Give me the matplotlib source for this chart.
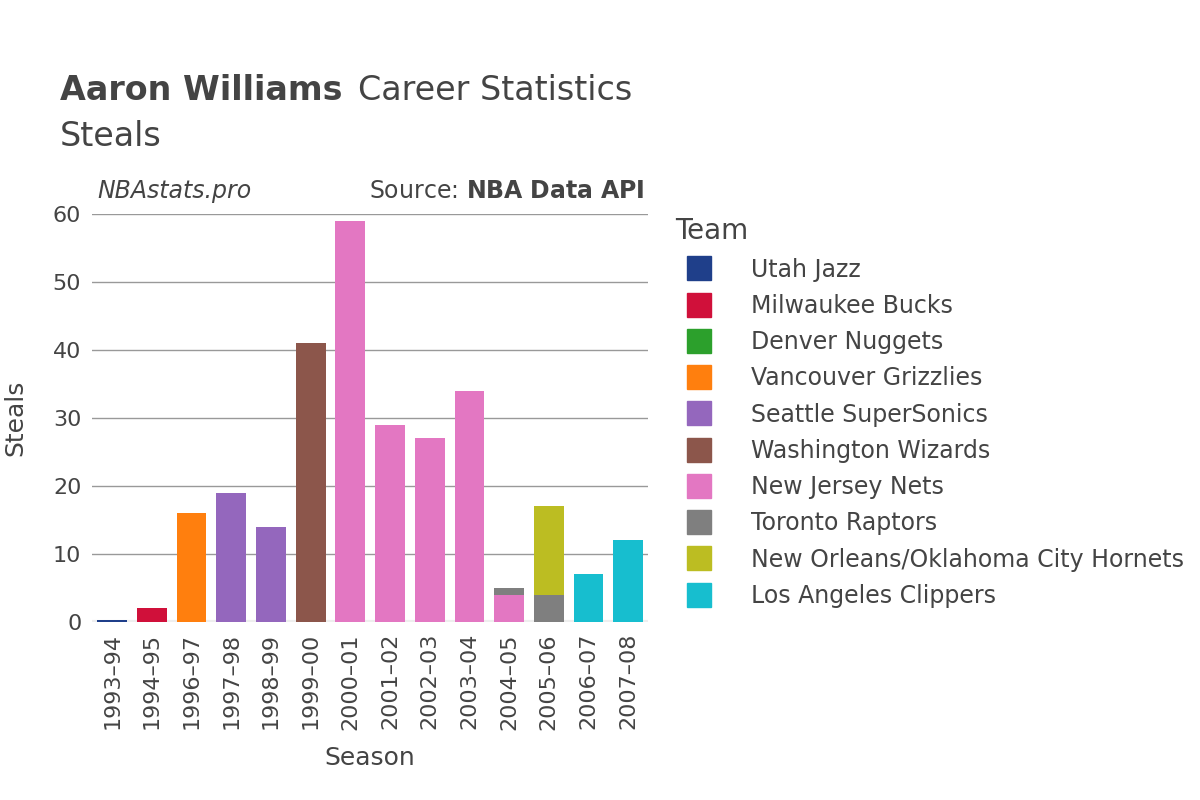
import matplotlib
matplotlib.use("Agg")
import matplotlib.pyplot as plt
from matplotlib.lines import Line2D

seasons = ["1993–94","1994–95","1996–97","1997–98","1998–99","1999–00","2000–01",
           "2001–02","2002–03","2003–04","2004–05","2005–06","2006–07","2007–08"]
teams = ["Utah Jazz","Milwaukee Bucks","Denver Nuggets","Vancouver Grizzlies",
         "Seattle SuperSonics","Washington Wizards","New Jersey Nets","Toronto Raptors",
         "New Orleans/Oklahoma City Hornets","Los Angeles Clippers"]
colors = ["#1f3f8a","#d0103a","#2ca02c","#ff7f0e","#9467bd","#8c564b","#e377c2",
          "#7f7f7f","#bcbd22","#17becf"]
# (season index, team index, steals), stacked in order
records = [(0,0,0.3),(1,1,2),(2,3,16),(3,4,19),(4,4,14),(5,5,41),(6,6,59),(7,6,29),
           (8,6,27),(9,6,34),(10,6,4),(10,7,1),(11,7,4),(11,8,13),(12,9,7),(13,9,12)]

fig = plt.figure(figsize=(12,8), dpi=100)
ax = fig.add_axes([0.077, 0.2225, 0.463, 0.51])
bottoms = [0]*len(seasons)
for si, ti, v in records:
    ax.bar(si, v, bottom=bottoms[si], width=0.75, color=colors[ti], zorder=3)
    bottoms[si] += v
ax.set_xlim(-0.5, len(seasons)-0.5)
ax.set_ylim(0, 60)
ax.set_yticks(range(0,61,10))
ax.set_xticks(range(len(seasons)))
ax.set_xticklabels(seasons, rotation=90, va="top")
ax.grid(axis="y", color="#999999", lw=1, zorder=0)
for s in ax.spines.values(): s.set_visible(False)
ax.axhline(0, color="#eeeeee", lw=3, zorder=2)
ax.tick_params(length=0, labelsize=16, colors="#444444", pad=8)
ax.set_xlabel("Season", fontsize=18, color="#444444", labelpad=12)
ax.set_ylabel("Steals", fontsize=18, color="#444444", labelpad=18)

fig.text(0.05, 0.875, "Aaron Williams", fontsize=24, fontweight="bold", color="#444444")
fig.text(0.298, 0.875, "Career Statistics", fontsize=24, color="#444444")
fig.text(0.05, 0.818, "Steals", fontsize=24, color="#444444")
fig.text(0.081, 0.752, "NBAstats.pro", fontsize=17, style="italic", color="#444444")
fig.text(0.537, 0.752, "Source: $\\bf{NBA\\ Data\\ API}$", fontsize=17, color="#444444", ha="right")

handles = [Line2D([],[],marker="s",ls="",markersize=17,color=c) for c in colors]
leg = fig.legend(handles, teams, loc="upper left", bbox_to_anchor=(0.545, 0.755),
                 frameon=False, fontsize=17, title="Team", title_fontsize=20,
                 labelspacing=0.52, handletextpad=1.2, labelcolor="#444444")
leg._legend_box.align = "left"
leg.get_title().set_color("#444444")
fig.savefig("out.png")
